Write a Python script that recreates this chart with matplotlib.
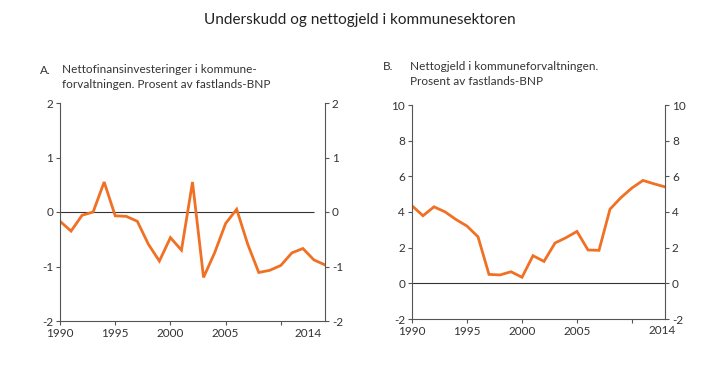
import matplotlib
matplotlib.use("Agg")
import matplotlib.pyplot as plt

plt.rcParams["font.family"] = ["Lato", "DejaVu Sans"]
plt.rcParams["axes.unicode_minus"] = False

years_a = list(range(1990, 2015))
netto_fin = [-0.17, -0.35, -0.06, 0.0, 0.55, -0.07, -0.08, -0.17, -0.59, -0.9,
             -0.47, -0.7, 0.55, -1.2, -0.75, -0.21, 0.05, -0.59, -1.11, -1.07,
             -0.98, -0.75, -0.67, -0.88, -0.97]

years_b = list(range(1990, 2014))
netto_gjeld = [4.35, 3.79, 4.29, 4.01, 3.58, 3.21, 2.61, 0.5, 0.47, 0.65,
               0.34, 1.55, 1.23, 2.26, 2.56, 2.91, 1.87, 1.85, 4.16, 4.81,
               5.35, 5.77, 5.58, 5.41]

x_ticks = [1990, 1995, 2000, 2005, 2010]
x_labels = ["1990", "1995", "2000", "2005", ""]

orange = "#f07024"
spine_col = "#555555"
text_col = "#333333"

fig = plt.figure(figsize=(7.19, 3.72), dpi=100)
W, H = 719, 372


def make_axes(x0, x1, y0, y1):
    return fig.add_axes([x0 / W, 1 - y1 / H, (x1 - x0) / W, (y1 - y0) / H])


def style(ax, yticks, xmax, label2014_x):
    ax.set_yticks(yticks)
    ax.set_xticks(x_ticks)
    ax.set_xticklabels(x_labels)
    ax.tick_params(axis="both", colors=spine_col, labelcolor=text_col,
                   labelsize=8.5, length=3, width=0.8, direction="out", pad=2)
    ax.tick_params(axis="y", right=True, labelright=True)
    ax.spines["top"].set_visible(False)
    for s in ["left", "right", "bottom"]:
        ax.spines[s].set_color(spine_col)
        ax.spines[s].set_linewidth(0.8)
    ax.text(label2014_x, -0.03, "2014", transform=ax.get_xaxis_transform(),
            ha="center", va="top", fontsize=8.5, color=text_col)
    ax.set_xlim(1990, xmax)


ax1 = make_axes(60, 325, 103, 321)
ax1.hlines(0, 1990, 2013, color="#333333", lw=0.8)
ax1.plot(years_a, netto_fin, color=orange, lw=2.0, solid_joinstyle="miter")
ax1.set_ylim(-2, 2)
style(ax1, [-2, -1, 0, 1, 2], 2014, 2012.5)

ax2 = make_axes(412, 665, 105, 319)
ax2.axhline(0, color="#333333", lw=0.8)
ax2.plot(years_b, netto_gjeld, color=orange, lw=2.0, solid_joinstyle="miter")
ax2.set_ylim(-2, 10)
style(ax2, [-2, 0, 2, 4, 6, 8, 10], 2013, 2012.7)

fig.text(360 / W, 1 - 20 / H, "Underskudd og nettogjeld i kommunesektoren",
         ha="center", va="center", fontsize=11, color="#222222")
fig.text(40 / W, 1 - 70 / H, "A.", ha="left", va="center", fontsize=8.5, color=text_col)
fig.text(62 / W, 1 - 77 / H,
         "Nettofinansinvesteringer i kommune-\nforvaltningen. Prosent av fastlands-BNP",
         ha="left", va="center", fontsize=8.5, color=text_col, linespacing=1.35)
fig.text(383 / W, 1 - 67 / H, "B.", ha="left", va="center", fontsize=8.5, color=text_col)
fig.text(410 / W, 1 - 74 / H,
         "Nettogjeld i kommuneforvaltningen.\nProsent av fastlands-BNP",
         ha="left", va="center", fontsize=8.5, color=text_col, linespacing=1.35)

fig.savefig("out.png", dpi=100)
